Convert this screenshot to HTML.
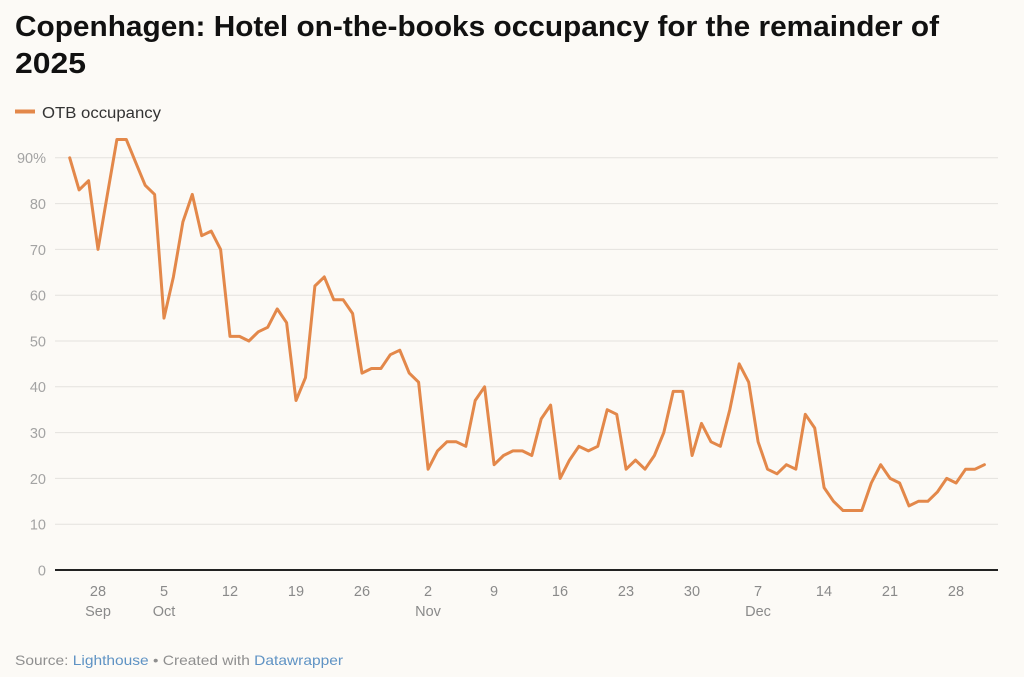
<!DOCTYPE html>
<html>
<head>
<meta charset="utf-8">
<style>
  html, body { margin:0; padding:0; background:#fcfaf6; }
  body { width:1024px; height:677px; overflow:hidden; }
  svg { display:block; }
  text { font-family: "Liberation Sans", Arial, sans-serif; }
</style>
</head>
<body>
<svg width="1024" height="677" viewBox="0 0 1024 677" xmlns="http://www.w3.org/2000/svg">
  <rect x="0" y="0" width="1024" height="677" fill="#fcfaf6"/>
  <!-- Title -->
  <text x="15" y="36" font-size="29" font-weight="bold" fill="#111" textLength="924" lengthAdjust="spacingAndGlyphs">Copenhagen: Hotel on-the-books occupancy for the remainder of</text>
  <text x="15" y="73" font-size="29" font-weight="bold" fill="#111" textLength="71" lengthAdjust="spacingAndGlyphs">2025</text>

  <!-- Legend -->
  <line x1="15" y1="111.5" x2="35" y2="111.5" stroke="#e3884a" stroke-width="4"/>
  <text x="42" y="118" font-size="15.5" fill="#333" textLength="119" lengthAdjust="spacingAndGlyphs">OTB occupancy</text>

  <!-- Gridlines -->
  <g stroke="#e4e2de" stroke-width="1">
    <line x1="55" y1="157.8" x2="998" y2="157.8"/>
    <line x1="55" y1="203.6" x2="998" y2="203.6"/>
    <line x1="55" y1="249.4" x2="998" y2="249.4"/>
    <line x1="55" y1="295.2" x2="998" y2="295.2"/>
    <line x1="55" y1="341.0" x2="998" y2="341.0"/>
    <line x1="55" y1="386.8" x2="998" y2="386.8"/>
    <line x1="55" y1="432.6" x2="998" y2="432.6"/>
    <line x1="55" y1="478.4" x2="998" y2="478.4"/>
    <line x1="55" y1="524.2" x2="998" y2="524.2"/>
  </g>

  <!-- Y labels -->
  <g font-size="14.5" fill="#a3a3a3" text-anchor="end">
    <text x="46" y="163">90%</text>
    <text x="46" y="209">80</text>
    <text x="46" y="255">70</text>
    <text x="46" y="300.5">60</text>
    <text x="46" y="346.5">50</text>
    <text x="46" y="392">40</text>
    <text x="46" y="438">30</text>
    <text x="46" y="484">20</text>
    <text x="46" y="529.5">10</text>
    <text x="46" y="575.5">0</text>
  </g>

  <!-- Baseline -->
  <line x1="55" y1="570" x2="998" y2="570" stroke="#222" stroke-width="2"/>

  <!-- X labels -->
  <g font-size="14.5" fill="#8a8a8a" text-anchor="middle">
    <text x="98" y="596">28</text>
    <text x="164" y="596">5</text>
    <text x="230" y="596">12</text>
    <text x="296" y="596">19</text>
    <text x="362" y="596">26</text>
    <text x="428" y="596">2</text>
    <text x="494" y="596">9</text>
    <text x="560" y="596">16</text>
    <text x="626" y="596">23</text>
    <text x="692" y="596">30</text>
    <text x="758" y="596">7</text>
    <text x="824" y="596">14</text>
    <text x="890" y="596">21</text>
    <text x="956" y="596">28</text>
    <text x="98" y="616">Sep</text>
    <text x="164" y="616">Oct</text>
    <text x="428" y="616">Nov</text>
    <text x="758" y="616">Dec</text>
  </g>

  <!-- Series -->
  <polyline fill="none" stroke="#e3884a" stroke-width="3" stroke-linejoin="round" stroke-linecap="round"
    points="69.7,157.8 79.1,189.9 88.6,180.7 98.0,249.4 107.4,194.4 116.9,139.5 126.3,139.5 135.7,162.4 145.2,185.3 154.6,194.4 164.0,318.1 173.4,276.9 182.9,221.9 192.3,194.4 201.7,235.7 211.2,231.1 220.6,249.4 230.0,336.4 239.5,336.4 248.9,341 258.3,331.8 267.7,327.3 277.2,308.9 286.6,322.7 296.0,400.5 305.5,377.6 314.9,286 324.3,276.9 333.8,299.8 343.2,299.8 352.6,313.5 362.0,373.1 371.5,368.5 380.9,368.5 390.3,354.7 399.8,350.2 409.2,373.1 418.6,382.2 428.1,469.2 437.5,450.9 446.9,441.8 456.3,441.8 465.8,446.3 475.2,400.5 484.6,386.8 494.1,464.7 503.5,455.5 512.9,450.9 522.4,450.9 531.8,455.5 541.2,418.9 550.6,405.1 560.1,478.4 569.5,460.1 578.9,446.3 588.4,450.9 597.8,446.3 607.2,409.7 616.7,414.3 626.1,469.2 635.5,460.1 645.0,469.2 654.4,455.5 663.8,432.6 673.2,391.4 682.7,391.4 692.1,455.5 701.5,423.4 711.0,441.8 720.4,446.3 729.8,409.7 739.2,363.9 748.7,382.2 758.1,441.8 767.5,469.2 777.0,473.8 786.4,464.7 795.8,469.2 805.3,414.3 814.7,428 824.1,487.6 833.5,501.3 843.0,510.5 852.4,510.5 861.8,510.5 871.3,483 880.7,464.7 890.1,478.4 899.6,483 909.0,505.9 918.4,501.3 927.8,501.3 937.3,492.1 946.7,478.4 956.1,483 965.6,469.2 975.0,469.2 984.4,464.7"/>

  <!-- Footer -->
  <text x="15" y="665" font-size="14" fill="#8f8f8f" textLength="328" lengthAdjust="spacingAndGlyphs">Source: <tspan fill="#5f93c4">Lighthouse</tspan> • Created with <tspan fill="#5f93c4">Datawrapper</tspan></text>
</svg>
</body>
</html>
